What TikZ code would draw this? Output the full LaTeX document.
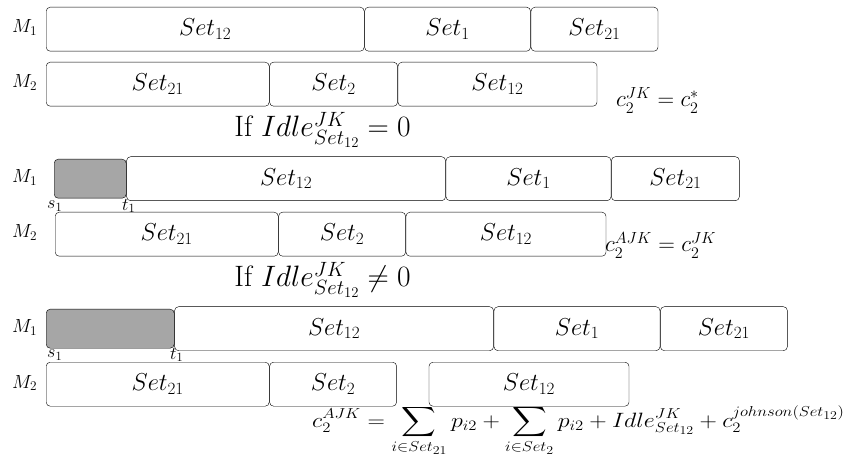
\documentclass[tikz,border=0pt]{standalone}
\usepackage{fix-cm}
\usepackage{exscale}
\usetikzlibrary{positioning}

\begin{document}
\begin{tikzpicture}[x=1pt, y=-1pt,
    mach/.style={inner sep=0pt, anchor=base west, font=\fontsize{19}{22}\selectfont},
    ends/.style={inner sep=0pt, font=\fontsize{18}{21}\selectfont},
    cond/.style={inner sep=0pt, font=\fontsize{29.5}{34}\selectfont},
    eqn/.style={inner sep=0pt, font=\fontsize{23}{27}\selectfont}]
  \useasboundingbox (0,0) rectangle (844,457);

  \begin{scope}[every node/.style={draw, rounded corners=4pt, minimum height=44pt, inner sep=0pt, font=\fontsize{24.5}{29}\selectfont}]
    % first schedule
    \node (a1s12) [minimum width=318pt, anchor=north west] at (46,7) {$Set_{12}$};
    \node (a1s1) [minimum width=166pt, right=0pt of a1s12] {$Set_1$};
    \node (a1s21) [minimum width=127pt, right=0pt of a1s1] {$Set_{21}$};
    \node (a2s21) [minimum width=223pt, anchor=north west] at (46,62) {$Set_{21}$};
    \node (a2s2) [minimum width=128pt, right=0pt of a2s21] {$Set_2$};
    \node (a2s12) [minimum width=199pt, right=0pt of a2s2] {$Set_{12}$};

    % second schedule, short idle on M1
    \node (b1idle) [fill=gray!70, minimum width=72pt, minimum height=39pt, anchor=north west] at (54,159) {};
    \node (b1s12) [minimum width=319pt, right=0pt of b1idle] {$Set_{12}$};
    \node (b1s1) [minimum width=165pt, right=0pt of b1s12] {$Set_1$};
    \node (b1s21) [minimum width=128pt, right=0pt of b1s1] {$Set_{21}$};
    \node (b2s21) [minimum width=223pt, anchor=north west] at (55,212) {$Set_{21}$};
    \node (b2s2) [minimum width=127pt, right=0pt of b2s21] {$Set_2$};
    \node (b2s12) [minimum width=200pt, right=0pt of b2s2] {$Set_{12}$};

    % third schedule, longer idle on M1
    \node (c1idle) [fill=gray!70, minimum width=128pt, minimum height=39pt, anchor=north west] at (46,309) {};
    \node (c1s12) [minimum width=319pt, right=0pt of c1idle] {$Set_{12}$};
    \node (c1s1) [minimum width=166pt, right=0pt of c1s12] {$Set_1$};
    \node (c1s21) [minimum width=127pt, right=0pt of c1s1] {$Set_{21}$};
    \node (c2s21) [minimum width=223pt, anchor=north west] at (46,362) {$Set_{21}$};
    \node (c2s2) [minimum width=127pt, right=0pt of c2s21] {$Set_2$};
    \node (c2s12) [minimum width=200pt, right=32pt of c2s2] {$Set_{12}$};
  \end{scope}

  % machine labels
  \node (a1) [mach] at (12,33) {$M_1$};
  \node (a2) [mach] at (12,88) {$M_2$};
  \node (b1) [mach] at (12,183) {$M_1$};
  \node (b2) [mach] at (12,238) {$M_2$};
  \node (c1) [mach] at (12,333) {$M_1$};
  \node (c2) [mach] at (12,388) {$M_2$};

  % start and end of the idle time
  \node (bs) [ends, anchor=north west] at (47,201) {$s_1$};
  \node (bt) [ends, anchor=north west] at (122,199) {$t_1$};
  \node (cs) [ends, anchor=north west] at (47,350) {$s_1$};
  \node (ct) [ends, anchor=north west] at (170,348) {$t_1$};

  \node (ifa) [cond, anchor=base] at (322.5,137) {If $Idle^{JK}_{Set_{12}} = 0$};
  \node (ifb) [cond, anchor=base] at (322.5,287) {If $Idle^{JK}_{Set_{12}} \neq 0$};

  \node (ca) [eqn, anchor=base west] at (616,107) {$c_2^{JK} = c_2^*$};
  \node (cb) [eqn, anchor=base west] at (605,252) {$c_2^{AJK} = c_2^{JK}$};
  % completion time on M2, widened a little
  \node (cc) [eqn, font=\fontsize{20.74}{25}\selectfont, anchor=base west] at (312,427) {\scalebox{1.16}[1]{$\displaystyle c_2^{AJK} = \sum_{i\in Set_{21}} p_{i2} + \sum_{i\in Set_2} p_{i2} + Idle^{JK}_{Set_{12}} + c_2^{johnson(Set_{12})}$}};
\end{tikzpicture}
\end{document}
